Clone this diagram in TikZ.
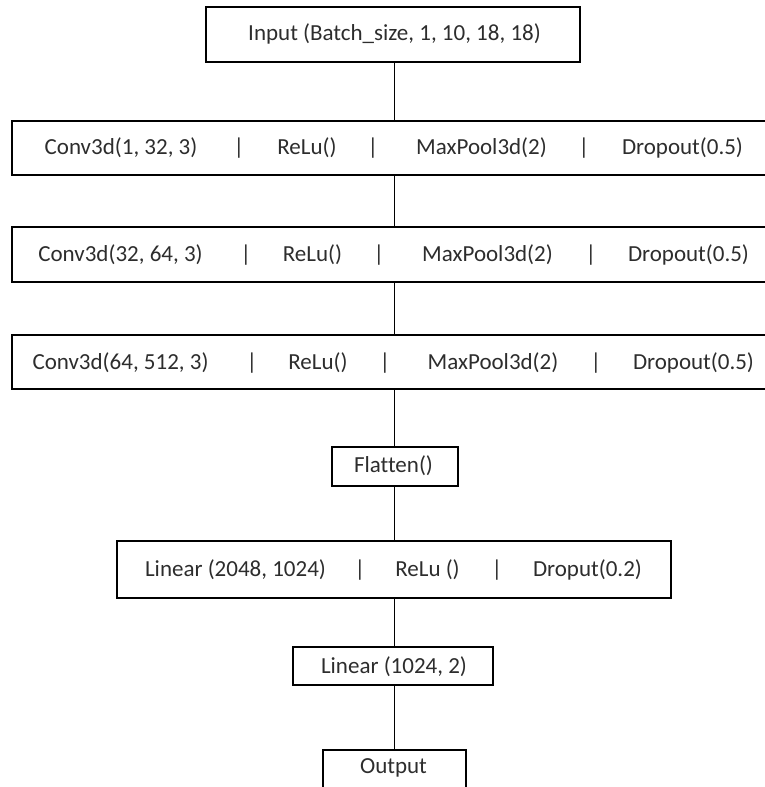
\documentclass[tikz,border=0pt]{standalone}
\usepackage{fontspec}
\setmainfont{Carlito}[Ligatures=NoCommon]
\definecolor{txt}{RGB}{45,45,45}
\begin{document}
\begin{tikzpicture}[x=1pt,y=-1pt,
  box/.style={draw=black,line width=2pt,rectangle,inner sep=0pt,anchor=north west},
  lbl/.style={text=txt,font=\fontsize{23}{26}\selectfont,inner sep=0pt},
  link/.style={draw=black,line width=1pt}]
\useasboundingbox (0,0) rectangle (765,787);
% boxes
\node[box,minimum width=374pt,minimum height=55pt] (in) at (205,6) {};
\node[box,minimum width=790pt,minimum height=54pt] (c1) at (11,120) {};
\node[box,minimum width=790pt,minimum height=55pt] (c2) at (11,226) {};
\node[box,minimum width=790pt,minimum height=54pt] (c3) at (11,334) {};
\node[box,minimum width=126pt,minimum height=39pt] (fl) at (331,446) {};
\node[box,minimum width=554pt,minimum height=57pt] (l1) at (116,540) {};
\node[box,minimum width=200pt,minimum height=38pt] (l2) at (292,646) {};
\node[box,minimum width=143pt,minimum height=60pt] (out) at (322,749) {};
% texts
\node[lbl] (tin) at (394.5,34) {Input (Batch\_size, 1, 10, 18, 18)};
\node[lbl] (a1) at (121,148) {Conv3d(1, 32, 3)};
\node[lbl] (a2) at (239,148) {|};
\node[lbl] (a3) at (307,148) {ReLu()};
\node[lbl] (a4) at (373,148) {|};
\node[lbl] (a5) at (481.5,148) {MaxPool3d(2)};
\node[lbl] (a6) at (584,148) {|};
\node[lbl] (a7) at (682.5,148) {Dropout(0.5)};
\node[lbl] (b1) at (120.5,255) {Conv3d(32, 64, 3)};
\node[lbl] (b2) at (246,255) {|};
\node[lbl] (b3) at (312.5,255) {ReLu()};
\node[lbl] (b4) at (379,255) {|};
\node[lbl] (b5) at (487.5,255) {MaxPool3d(2)};
\node[lbl] (b6) at (591,255) {|};
\node[lbl] (b7) at (688.5,255) {Dropout(0.5)};
\node[lbl] (d1) at (120.5,363) {Conv3d(64, 512, 3)};
\node[lbl] (d2) at (252,363) {|};
\node[lbl] (d3) at (318,363) {ReLu()};
\node[lbl] (d4) at (385,363) {|};
\node[lbl] (d5) at (493,363) {MaxPool3d(2)};
\node[lbl] (d6) at (596,363) {|};
\node[lbl] (d7) at (693.5,363) {Dropout(0.5)};
\node[lbl] (tfl) at (393.5,466) {Flatten()};
\node[lbl] (e1) at (235.5,570) {Linear (2048, 1024)};
\node[lbl] (e2) at (360,570) {|};
\node[lbl] (e3) at (427.5,570) {ReLu ()};
\node[lbl] (e4) at (497,570) {|};
\node[lbl] (e5) at (587.5,570) {Droput(0.2)};
\node[lbl] (tl2) at (394,667) {Linear (1024, 2)};
\node[lbl] (tout) at (393.5,768) {Output};
% connectors
\coordinate (x) at (394,0);
\draw[link] (x |- in.south) -- (x |- c1.north);
\draw[link] (x |- c1.south) -- (x |- c2.north);
\draw[link] (x |- c2.south) -- (x |- c3.north);
\draw[link] (x |- c3.south) -- (x |- fl.north);
\draw[link] (x |- fl.south) -- (x |- l1.north);
\draw[link] (x |- l1.south) -- (x |- l2.north);
\draw[link] (x |- l2.south) -- (x |- out.north);
\end{tikzpicture}
\end{document}
